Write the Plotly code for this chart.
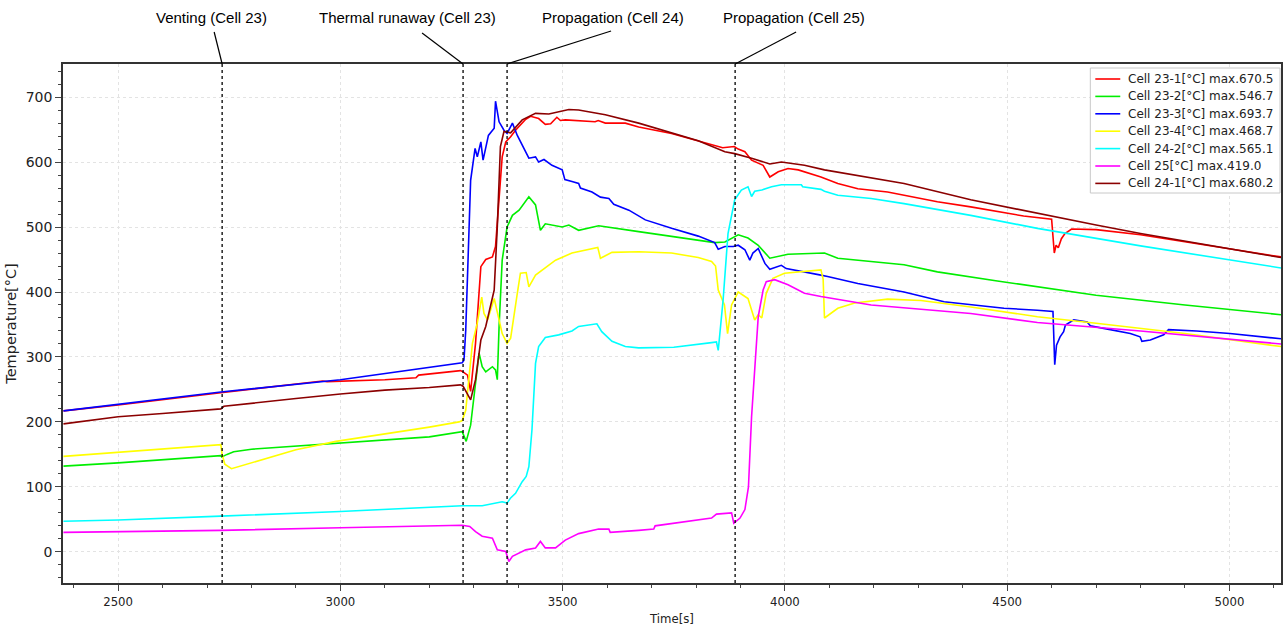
import plotly.graph_objects as go

# ---------------- data ----------------
t_23_1 = [2377, 2500, 2731, 2960, 2970, 3100, 3170, 3176, 3270, 3276, 3286, 3293, 3304, 3316, 3327, 3342, 3349, 3357,
          3364, 3372, 3383, 3394, 3417, 3428, 3446, 3461, 3473, 3487, 3495, 3506, 3573, 3580, 3596, 3641, 3671, 3745,
          3805, 3860, 3886, 3895, 3910, 3925, 3951, 3966, 3985, 4007, 4030, 4081, 4119, 4164, 4231, 4343, 4418, 4537,
          4600, 4606, 4610, 4615, 4622, 4630, 4645, 4700, 4800, 4900, 5000, 5116]
v_23_1 = [217, 226, 245, 263, 262, 265, 268, 272, 279, 277, 272, 247, 321, 439, 450, 454, 470, 552,
          608, 631, 639, 649, 666, 670.5, 667, 658, 659, 669, 664, 665, 662, 664, 660, 660, 654, 644,
          633, 622, 624, 620, 616, 603, 595, 577, 585, 590, 588, 577, 567, 559, 554, 539, 531, 517,
          512, 460, 472, 468, 482, 490, 497, 496, 488, 477, 466, 454]

t_23_2 = [2377, 2500, 2731, 2733, 2745, 2760, 2800, 2900, 3000, 3100, 3200, 3274, 3283, 3293, 3301, 3312, 3319, 3327,
          3342, 3349, 3353, 3357, 3364, 3375, 3387, 3402, 3424, 3439, 3450, 3461, 3499, 3514, 3536, 3581, 3671, 3805,
          3842, 3865, 3895, 3917, 3940, 3966, 4007, 4089, 4119, 4268, 4343, 4478, 4568, 4700, 4900, 5116]
v_23_2 = [132, 137, 148, 146, 150, 154, 158, 163, 167, 172, 177, 185, 170, 195, 244, 306, 285, 277,
          285, 280, 265, 347, 449, 500, 518, 526, 546.7, 534, 495, 505, 500, 503, 495, 502, 493, 480,
          476, 477, 488, 483, 472, 452, 458, 460, 452, 442, 431, 417, 408, 395, 380, 365]

t_23_3 = [2377, 2731, 3000, 3274, 3278, 3282, 3293, 3303, 3308, 3316, 3321, 3333, 3346, 3349, 3357, 3368, 3375, 3387,
          3398, 3409, 3424, 3439, 3446, 3458, 3476, 3499, 3505, 3521, 3536, 3540, 3566, 3585, 3604, 3615, 3649, 3686,
          3745, 3805, 3842, 3850, 3865, 3884, 3895, 3910, 3921, 3928, 3940, 3955, 3966, 3992, 4003, 4081, 4096, 4164,
          4268, 4358, 4493, 4568, 4603, 4607, 4611, 4619, 4627, 4631, 4650, 4680, 4687, 4717, 4777, 4799, 4803, 4822,
          4852, 4863, 4926, 5001, 5116]
v_23_3 = [217, 246, 265, 291, 295, 341, 572, 621, 608, 631, 603, 641, 652, 693.7, 662, 649, 644, 660,
          641, 626, 606, 608, 600, 604, 595, 588, 573, 570, 567, 560, 554, 546, 544, 535, 526, 511,
          498, 486, 476, 466, 470, 470, 472, 465, 449, 460, 467, 444, 435, 441, 436, 426, 424, 413,
          400, 385, 375, 372, 370, 288, 318, 331, 339, 349, 357, 354, 348, 344, 336, 331, 324, 326,
          334, 342, 340, 336, 328]

t_23_4 = [2377, 2500, 2731, 2734, 2740, 2755, 2780, 2850, 2900, 2990, 3100, 3200, 3267, 3274, 3282, 3297, 3308, 3318,
          3323, 3331, 3346, 3353, 3364, 3375, 3383, 3398, 3405, 3418, 3424, 3439, 3484, 3521, 3573, 3579, 3585, 3611,
          3671, 3745, 3805, 3835, 3844, 3850, 3864, 3871, 3880, 3895, 3917, 3928, 3932, 3940, 3948, 3958, 3973, 3999,
          4081, 4086, 4089, 4119, 4157, 4231, 4306, 4418, 4478, 4568, 4700, 4900, 5116]
v_23_4 = [147, 153, 165, 150, 135, 128, 133, 148, 157, 170, 181, 192, 200, 202, 218, 321, 352, 392,
          367, 357, 390, 367, 336, 321, 329, 398, 429, 430, 408, 426, 449, 460, 467, 468.7, 452, 461,
          462, 460, 453, 447, 440, 403, 380, 336, 380, 400, 390, 367, 357, 365, 360, 398, 421, 429,
          434, 420, 360, 375, 383, 389, 387, 377, 371, 362, 352, 336, 316]

t_24_2 = [2377, 2500, 2731, 3000, 3274, 3319, 3364, 3375, 3383, 3394, 3409, 3418, 3424, 3431, 3439, 3446, 3461, 3491,
          3521, 3536, 3577, 3588, 3611, 3641, 3671, 3750, 3835, 3846, 3850, 3861, 3872, 3887, 3902, 3917, 3925, 3932,
          3948, 3970, 3992, 4037, 4040, 4081, 4089, 4119, 4194, 4268, 4418, 4568, 4800, 5116]
v_24_2 = [47, 49, 55, 62, 71, 71, 77, 75, 83, 90, 108, 116, 131, 188, 290, 316, 330, 334,
          340, 347, 351, 339, 324, 316, 314, 315, 322, 323, 310, 388, 490, 542, 557, 562, 547, 555,
          557, 562, 565.1, 565, 562, 558, 555, 549, 544, 536, 518, 498, 471, 437]

t_25 = [2377, 2500, 2731, 3000, 3274, 3291, 3304, 3319, 3342, 3353, 3372, 3379, 3387, 3417, 3439, 3450, 3461, 3484,
        3506, 3536, 3581, 3604, 3607, 3671, 3705, 3708, 3835, 3846, 3880, 3885, 3899, 3910, 3918, 3925, 3932, 3940,
        3951, 3958, 3977, 4007, 4044, 4081, 4194, 4418, 4568, 4800, 5116]
v_25 = [30, 31, 33, 37, 41, 39, 31, 24, 21, 3, 0.5, -15, -7, 3, 6, 16, 6, 6,
        18, 28, 35, 35, 30, 33, 35, 40, 52, 58, 60, 44, 52, 65, 100, 208, 285, 362,
        403, 416, 419, 411, 398, 393, 380, 367, 353, 340, 320]

t_24_1 = [2377, 2450, 2500, 2600, 2731, 2738, 2800, 2900, 3000, 3100, 3200, 3270, 3276, 3293, 3304, 3316, 3327, 3346,
          3353, 3360, 3368, 3383, 3409, 3439, 3469, 3514, 3536, 3596, 3671, 3805, 3865, 3887, 3925, 3966, 3992, 4044,
          4089, 4268, 4418, 4568, 4700, 4800, 4900, 5000, 5116]
v_24_1 = [197, 203, 208, 213, 220, 224, 229, 236, 243, 249, 253, 257, 255, 234, 265, 326, 347, 403,
          500, 624, 647, 645, 665, 675, 674, 681, 680.2, 673, 660, 633, 616, 613, 606, 597, 600, 595,
          588, 567, 542, 521, 503, 490, 478, 466, 453]

series_names = ["Cell 23-1[°C] max.670.5", "Cell 23-2[°C] max.546.7", "Cell 23-3[°C] max.693.7",
                "Cell 23-4[°C] max.468.7", "Cell 24-2[°C] max.565.1", "Cell 25[°C] max.419.0",
                "Cell 24-1[°C] max.680.2"]
series_colors = ["#ff0000", "#00ee00", "#0000ff", "#ffff00", "#00ffff", "#ff00ff", "#8b0000"]
series_t = [t_23_1, t_23_2, t_23_3, t_23_4, t_24_2, t_25, t_24_1]
series_v = [v_23_1, v_23_2, v_23_3, v_23_4, v_24_2, v_25, v_24_1]

event_times = [2734, 3276, 3375, 3888]
event_labels = ["Venting (Cell 23)", "Thermal runaway (Cell 23)", "Propagation (Cell 24)", "Propagation (Cell 25)"]

x_range = [2376, 5116]
y_range = [-48, 751]

# ---------------- style / layout constants ----------------
W, H = 1285, 629
ML, MR, MT, MB = 63, 2, 64, 46
PW, PH = W - ML - MR, H - MT - MB

# leader line pixel offsets (dx, dy) and text x offsets
event_line_dx = [-8, -41, 104, 61]
event_line_dy = [32, 31, 33, 32]
event_text_dx = [-11, -56, 106, 59]


def px_to_paper_x(px):
    return (px - ML) / PW


def py_to_paper_y(py):
    return (H - MB - py) / PH


# ---------------- figure ----------------
fig = go.Figure()
for name, col, tt, vv in zip(series_names, series_colors, series_t, series_v):
    fig.add_trace(go.Scatter(x=tt, y=vv, mode="lines", name=name, showlegend=False,
                             line=dict(color=col, width=1.6)))

shapes = []
annotations = []
for et, lab, ldx, ldy, tdx in zip(event_times, event_labels, event_line_dx, event_line_dy, event_text_dx):
    shapes.append(dict(type="line", xref="x", yref="paper", x0=et, x1=et, y0=0, y1=1,
                       line=dict(color="black", width=1.3, dash="dot"), layer="above"))
    shapes.append(dict(type="line", xref="x", yref="paper", xsizemode="pixel", ysizemode="pixel",
                       xanchor=et, yanchor=1, x0=0, x1=ldx, y0=0, y1=ldy,
                       line=dict(color="black", width=1.2)))
    annotations.append(dict(x=et, y=1, xref="x", yref="paper", text=lab, showarrow=False,
                            xshift=tdx, yshift=47, yanchor="middle", xanchor="center",
                            font=dict(family="Liberation Sans, Arial", size=15, color="black")))

# custom legend (compact, like the original)
LEG_L, LEG_R, LEG_T, LEG_B = 1092, 1282, 68, 193
shapes.append(dict(type="rect", xref="paper", yref="paper",
                   x0=px_to_paper_x(LEG_L), x1=px_to_paper_x(LEG_R),
                   y0=py_to_paper_y(LEG_B), y1=py_to_paper_y(LEG_T),
                   fillcolor="white", line=dict(color="#c8c8c8", width=1), layer="above"))
for i, (name, col) in enumerate(zip(series_names, series_colors)):
    yc = py_to_paper_y(79 + i * 17.4)
    shapes.append(dict(type="line", xref="paper", yref="paper",
                       x0=px_to_paper_x(1097), x1=px_to_paper_x(1122), y0=yc, y1=yc,
                       line=dict(color=col, width=1.6), layer="above"))
    annotations.append(dict(x=px_to_paper_x(1128), y=yc, xref="paper", yref="paper", text=name,
                            showarrow=False, xanchor="left", yanchor="middle",
                            font=dict(family="DejaVu Sans", size=12, color="#222")))

fig.update_layout(
    width=W, height=H,
    margin=dict(l=ML, r=MR, t=MT, b=MB),
    paper_bgcolor="white", plot_bgcolor="white",
    font=dict(family="DejaVu Sans", size=13, color="#222"),
    shapes=shapes, annotations=annotations,
    showlegend=False,
)
fig.update_xaxes(range=x_range, tick0=2500, dtick=500, ticks="outside", ticklen=6, tickwidth=1,
                 showline=True, linecolor="#333", linewidth=1.5, mirror=True,
                 showgrid=True, gridcolor="#e3e3e3", griddash="dot", gridwidth=1,
                 zeroline=False,
                 minor=dict(dtick=100, tick0=2500, ticks="outside", ticklen=3, showgrid=False),
                 tickfont=dict(family="DejaVu Sans Condensed, DejaVu Sans", size=13),
                 title=dict(text="Time[s]", font=dict(family="DejaVu Sans Condensed, DejaVu Sans", size=13),
                            standoff=6))
fig.update_yaxes(range=y_range, tick0=0, dtick=100, ticks="outside", ticklen=6, tickwidth=1,
                 showline=True, linecolor="#333", linewidth=1.5, mirror=True,
                 showgrid=True, gridcolor="#e3e3e3", griddash="dot", gridwidth=1,
                 zeroline=False,
                 minor=dict(dtick=20, tick0=0, ticks="outside", ticklen=3, showgrid=False),
                 tickfont=dict(family="DejaVu Sans", size=14),
                 title=dict(text="Temperature[°C]", font=dict(family="DejaVu Sans", size=14.5), standoff=6))

fig.write_html("out.html")
